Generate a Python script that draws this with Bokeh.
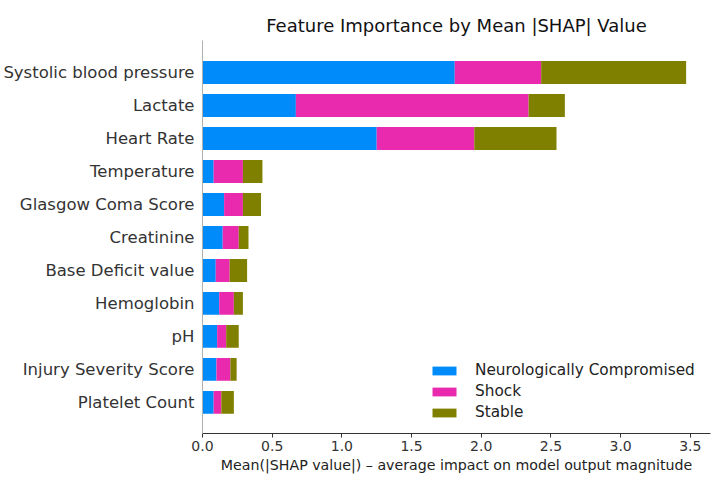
from bokeh.plotting import figure
from bokeh.models import Range1d, Legend, FixedTicker, ColumnDataSource, PrintfTickFormatter
from bokeh.embed import file_html
from bokeh.resources import INLINE

features = ["Systolic blood pressure", "Lactate", "Heart Rate", "Temperature",
            "Glasgow Coma Score", "Creatinine", "Base Deficit value", "Hemoglobin",
            "pH", "Injury Severity Score", "Platelet Count"]
neuro = [1.81, 0.67, 1.25, 0.08, 0.155, 0.145, 0.095, 0.12, 0.105, 0.10, 0.08]
shock = [0.62, 1.67, 0.70, 0.21, 0.135, 0.115, 0.10, 0.105, 0.065, 0.10, 0.055]
stable = [1.04, 0.26, 0.59, 0.14, 0.13, 0.07, 0.125, 0.065, 0.09, 0.045, 0.09]
classes = ["Neurologically Compromised", "Shock", "Stable"]
colors = ["#008bfb", "#e92aaf", "#808000"]
x_ticks = [0.0, 0.5, 1.0, 1.5, 2.0, 2.5, 3.0, 3.5]

n = len(features)
ypos = [n - 1 - i for i in range(n)]
src = ColumnDataSource(dict(y=ypos, neuro=neuro, shock=shock, stable=stable))

FONT = "DejaVu Sans"
p = figure(width=712, height=479, output_backend="svg", toolbar_location=None,
           x_range=Range1d(0, 3.645), y_range=Range1d(-0.94, n - 1 + 0.97),
           min_border_left=202, min_border_right=2, min_border_top=40, min_border_bottom=46,
           title="Feature Importance by Mean |SHAP| Value")
p.title.text_font = FONT
p.title.text_font_size = "18px"
p.title.text_font_style = "normal"
p.title.align = "center"
p.title.text_color = "#111111"

renderers = p.hbar_stack(["neuro", "shock", "stable"], y="y", height=0.69, color=colors,
                         source=src, line_color=None)

legend = Legend(items=[(c, [r]) for c, r in zip(classes, renderers)],
                location=(227, 12), border_line_color=None, background_fill_alpha=0,
                glyph_width=30, glyph_height=11, label_text_font=FONT, label_standoff=16,
                label_text_font_size="15.3px", label_height=18, spacing=3, padding=0, margin=0,
                label_text_color="#222222")
p.add_layout(legend, "center")

p.xgrid.visible = False
p.ygrid.visible = False
p.outline_line_color = None

p.xaxis.ticker = FixedTicker(ticks=x_ticks)
p.xaxis.formatter = PrintfTickFormatter(format="%.1f")
p.xaxis.axis_label = "Mean(|SHAP value|) \u2013 average impact on model output magnitude"
p.xaxis.axis_label_text_font = FONT
p.xaxis.axis_label_text_font_size = "14.2px"
p.xaxis.axis_label_text_font_style = "normal"
p.xaxis.axis_label_text_color = "#222222"
p.xaxis.axis_label_standoff = 3
p.xaxis.major_label_text_font = FONT
p.xaxis.major_label_text_font_size = "14px"
p.xaxis.major_label_text_color = "#333333"
p.xaxis.axis_line_color = "#333333"
p.xaxis.major_tick_line_color = "#333333"
p.xaxis.major_tick_out = 4
p.xaxis.major_tick_in = 0
p.xaxis.minor_tick_line_color = None
p.xaxis.major_label_standoff = 3

p.yaxis.ticker = FixedTicker(ticks=ypos)
p.yaxis.major_label_overrides = {y: f for y, f in zip(ypos, features)}
p.yaxis.major_label_text_font = FONT
p.yaxis.major_label_text_font_size = "16.5px"
p.yaxis.major_label_text_color = "#333333"
p.yaxis.axis_line_color = "#b0b0b0"
p.yaxis.major_tick_line_color = None
p.yaxis.major_tick_out = 0
p.yaxis.major_tick_in = 0
p.yaxis.minor_tick_line_color = None
p.yaxis.major_label_standoff = 8

open("out.html", "w").write(file_html(p, INLINE))
